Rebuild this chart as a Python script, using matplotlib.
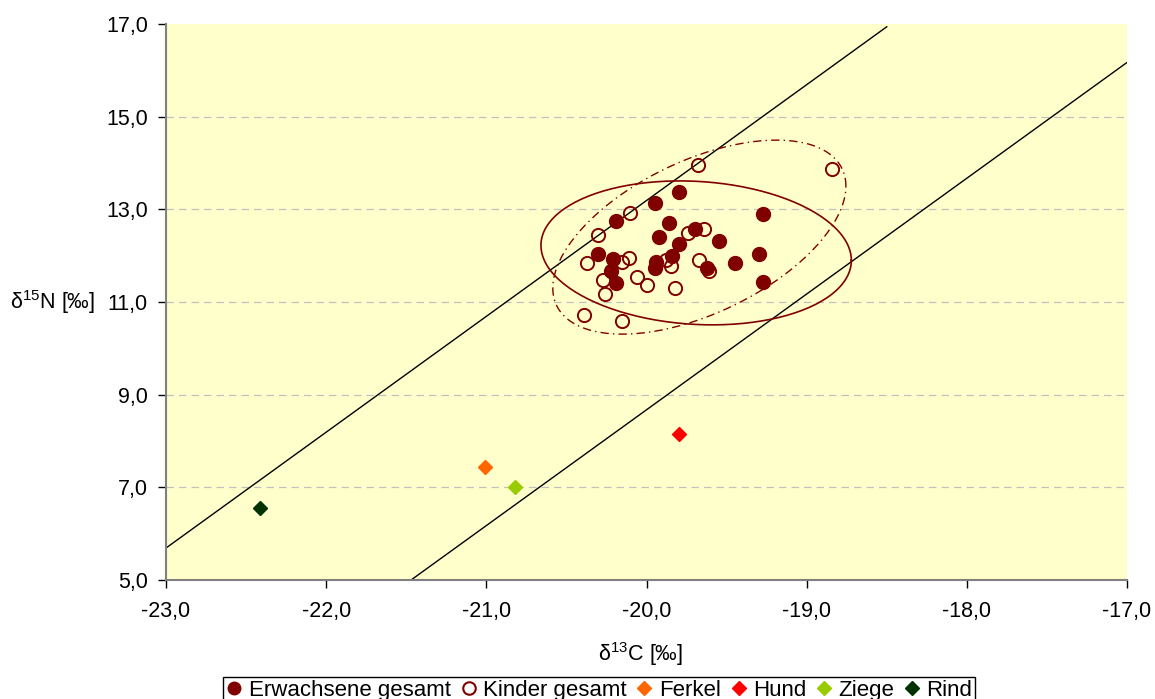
import numpy as np
import matplotlib.pyplot as plt
from matplotlib.lines import Line2D

plt.rcParams['font.family'] = ['Liberation Sans', 'DejaVu Sans']
plt.rcParams['mathtext.default'] = 'regular'

# --- Daten ---
erw_c = [-20.19, -19.95, -19.80, -19.86, -19.92, -19.70, -19.80, -19.55, -19.27, -20.30,
         -20.21, -20.22, -20.19, -19.94, -19.95, -19.84, -19.62, -19.45, -19.30, -19.27]
erw_n = [12.75, 13.13, 13.38, 12.71, 12.40, 12.58, 12.25, 12.31, 12.89, 12.04,
         11.92, 11.67, 11.42, 11.87, 11.73, 11.99, 11.73, 11.85, 12.04, 11.43]

kind_c = [-19.68, -18.84, -20.10, -20.30, -19.74, -19.64, -20.37, -20.15, -20.11, -19.88,
          -19.85, -19.67, -19.61, -20.27, -20.06, -20.00, -19.82, -20.26, -20.39, -20.15]
kind_n = [13.96, 13.86, 12.92, 12.45, 12.48, 12.58, 11.84, 11.86, 11.94, 11.91,
          11.77, 11.91, 11.66, 11.48, 11.55, 11.37, 11.31, 11.17, 10.71, 10.59]

tiere = ['Ferkel', 'Hund', 'Ziege', 'Rind']
tiere_c = [-21.01, -19.80, -20.82, -22.41]
tiere_n = [7.44, 8.15, 7.00, 6.56]
tiere_farbe = ['#FF6600', '#FF0000', '#99CC00', '#003300']

# Begrenzungslinien
linie1_c = [-23.0, -18.5]
linie1_n = [5.69, 16.94]
linie2_c = [-21.47, -17.0]
linie2_n = [5.0, 16.17]

# Ellipsen: Mittelpunkt, Halbachse (dx, dy), vertikale Halbachse
ell_erw = dict(c=(-19.69, 12.06), u=(0.969, -0.162), v=1.545)
ell_kind = dict(c=(-19.67, 12.40), u=(0.915, 1.101), v=1.781)

xticks = [-23, -22, -21, -20, -19, -18, -17]
yticks = [5, 7, 9, 11, 13, 15, 17]


def ellipse_pts(e, n=200):
    t = np.linspace(0, 2 * np.pi, n)
    x = e['c'][0] + e['u'][0] * np.cos(t)
    y = e['c'][1] + e['u'][1] * np.cos(t) + e['v'] * np.sin(t)
    return x, y


fig = plt.figure(figsize=(11.55, 6.99), dpi=100)
ax = fig.add_axes([166 / 1155, 1 - 580 / 699, (1127 - 166) / 1155, (580 - 24) / 699])
ax.set_facecolor('#FFFFCC')

for yv in yticks[1:-1]:
    ax.axhline(yv, color='#C0C0C0', linestyle=(0, (6, 4)), linewidth=0.9, zorder=0)

ax.plot(linie1_c, linie1_n, color='black', linewidth=1.0, zorder=2)
ax.plot(linie2_c, linie2_n, color='black', linewidth=1.0, zorder=2)

ex, ey = ellipse_pts(ell_erw)
ax.plot(ex, ey, color='#800000', linewidth=1.2, zorder=2)
kx, ky = ellipse_pts(ell_kind)
ax.plot(kx, ky, color='#800000', linewidth=1.0, linestyle=(0, (6, 3, 1, 3)), zorder=2)

ax.plot(kind_c, kind_n, linestyle='none', marker='o', markersize=9.5, markerfacecolor='none',
        markeredgecolor='#800000', markeredgewidth=1.4, zorder=3)
ax.plot(erw_c, erw_n, linestyle='none', marker='o', markersize=10, markerfacecolor='#800000',
        markeredgecolor='#800000', zorder=4)
for name, c, n, col in zip(tiere, tiere_c, tiere_n, tiere_farbe):
    ax.plot([c], [n], linestyle='none', marker='D', markersize=7, color=col, zorder=4)

ax.set_xlim(-23, -17)
ax.set_ylim(5, 17)
ax.set_xticks(xticks)
ax.set_yticks(yticks)
ax.set_xticklabels([f"{v:.1f}".replace('.', ',') for v in xticks], fontsize=15.5)
ax.set_yticklabels([f"{v:.1f}".replace('.', ',') for v in yticks], fontsize=15.5)
ax.tick_params(axis='y', direction='out', length=6, width=1, color='black', pad=7)
ax.tick_params(axis='x', direction='out', length=6, width=1, color='black', pad=9)

for s in ['top', 'right']:
    ax.spines[s].set_visible(False)
for s in ['left', 'bottom']:
    ax.spines[s].set_color('#808080')
    ax.spines[s].set_linewidth(1.5)

fig.text(640 / 1155, 1 - 654 / 699, '\u03b4$^{13}$C [\u2030]', fontsize=15.5, ha='center', va='center')
fig.text(52 / 1155, 1 - 302 / 699, '\u03b4$^{15}$N [\u2030]', fontsize=15.5, ha='center', va='center')

handles = [
    Line2D([], [], linestyle='none', marker='o', markersize=9, color='#800000'),
    Line2D([], [], linestyle='none', marker='o', markersize=9, markerfacecolor='none',
           markeredgecolor='#800000', markeredgewidth=1.5),
]
for col in tiere_farbe:
    handles.append(Line2D([], [], linestyle='none', marker='D', markersize=7, color=col))
labels = ['Erwachsene gesamt', 'Kinder gesamt'] + tiere

leg = fig.legend(handles, labels, loc='lower center', bbox_to_anchor=(599 / 1155, -0.006), ncol=6,
                 fontsize=16, frameon=True, fancybox=False, edgecolor='black', framealpha=1,
                 handlelength=0.8, handletextpad=0.25, columnspacing=0.4, borderpad=0.12,
                 borderaxespad=0)
leg.get_frame().set_linewidth(1.0)

fig.savefig('out.png', dpi=100)
